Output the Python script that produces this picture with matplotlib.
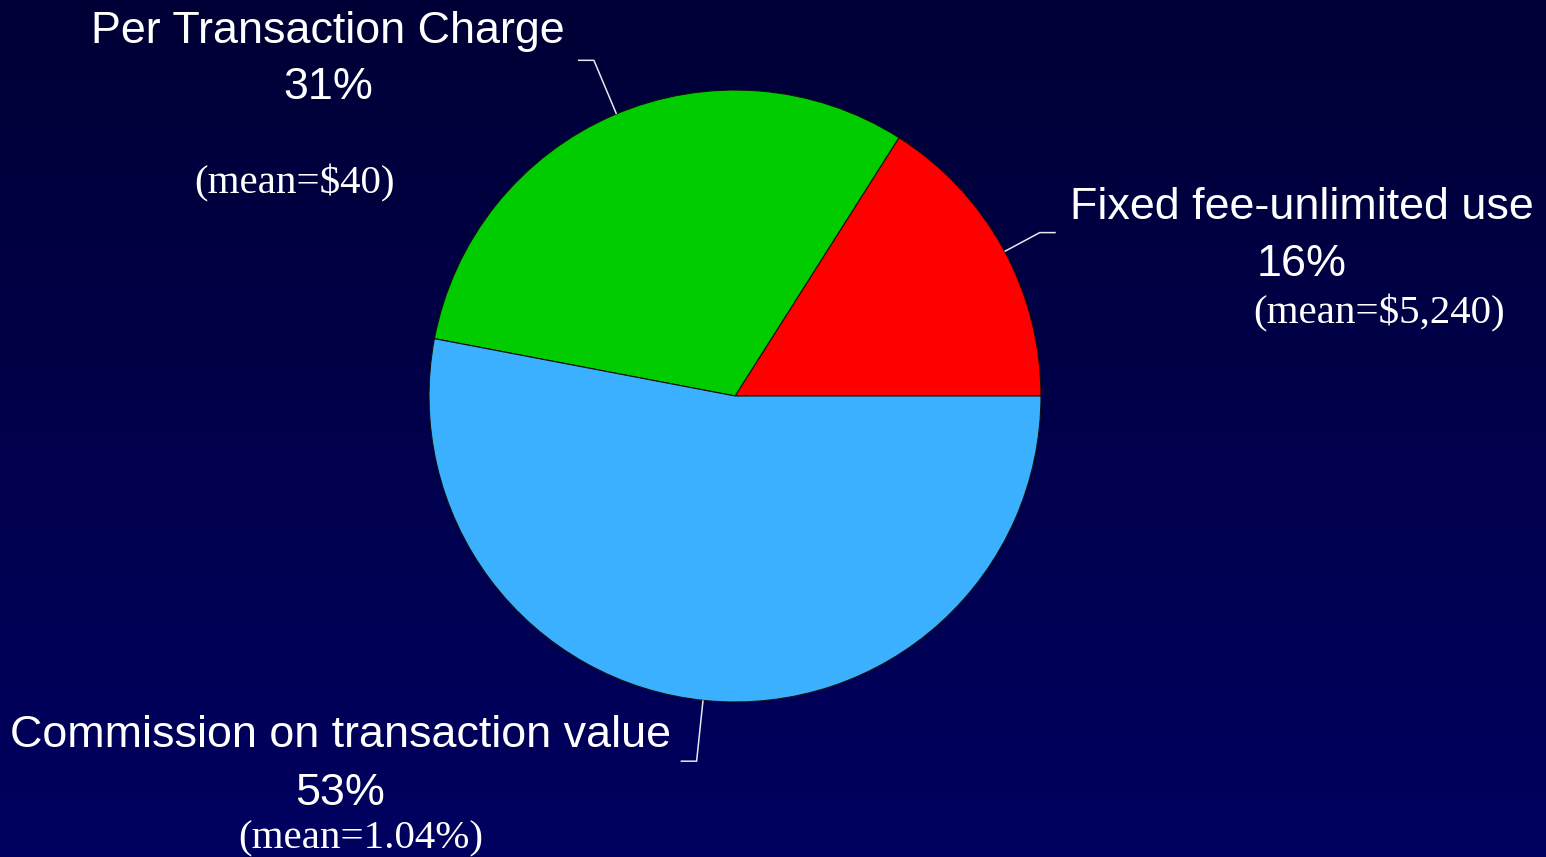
import numpy as np
import matplotlib
matplotlib.use('Agg')
import matplotlib.pyplot as plt

# data
categories = ['Fixed fee-unlimited use', 'Per Transaction Charge', 'Commission on transaction value']
shares = [16, 31, 53]
means = ['(mean=$5,240)', '(mean=$40)', '(mean=1.04%)']
colors = ['#ff0000', '#00cc00', '#3bb0ff']

W, H = 1546, 857
fig = plt.figure(figsize=(W / 100, H / 100), dpi=100)
ax = fig.add_axes([0, 0, 1, 1])

# background gradient (dark top -> lighter navy bottom)
grad = np.linspace(0, 1, 256).reshape(-1, 1)
top = np.array([0, 0, 0x36]) / 255
bot = np.array([0, 0, 0x60]) / 255
img = top + (bot - top) * grad[..., None]
ax.imshow(img, extent=[0, W, 0, H], origin='upper', aspect='auto', zorder=0)

cx, cy, R = 735, H - 396, 306
wedges, _ = ax.pie(shares, colors=colors, startangle=0, counterclock=True,
                   center=(cx, cy), radius=R, frame=True,
                   wedgeprops=dict(edgecolor='#101010', linewidth=0.8))
for w in wedges:
    w.set_zorder(2)
ax.set_xlim(0, W)
ax.set_ylim(0, H)
ax.set_aspect('equal')
ax.set_axis_off()

# leader lines: from wedge edge at mid angle, elbow, short horizontal
elbow_r = [1.13, 1.19, 1.20]
hdir = [1, -1, -1]
for w, er, d in zip(wedges, elbow_r, hdir):
    ang = np.deg2rad((w.theta1 + w.theta2) / 2 - 0.6)
    x0, y0 = cx + R * np.cos(ang), cy + R * np.sin(ang)
    x1, y1 = cx + R * er * np.cos(ang), cy + R * er * np.sin(ang)
    ax.plot([x0, x1, x1 + 16 * d], [y0, y1, y1], color='#e8e8f0', lw=1.1,
            zorder=3, solid_capstyle='butt')

sans = dict(family='Liberation Sans', fontsize=32.3, color='white',
            ha='center', va='baseline', zorder=4)
serif = dict(family='Liberation Serif', fontsize=29.5, color='white',
             ha='center', va='baseline', zorder=4)

# label layout in pixel coords (x, name baseline, pct baseline, mean x, mean baseline)
layout = [
    (1302, 219, 276, 1379, 323),
    (328, 43, 99, 294, 193),
    (340, 747, 805, 361, 848),
]
for name, pct, mean, (x, yn, yp, xm, ym) in zip(categories, shares, means, layout):
    ax.text(x, H - yn, name, **sans)
    ax.text(x, H - yp, f'{pct}%', **sans)
    ax.text(xm, H - ym, mean, **serif)

fig.savefig('out.png', dpi=100)
